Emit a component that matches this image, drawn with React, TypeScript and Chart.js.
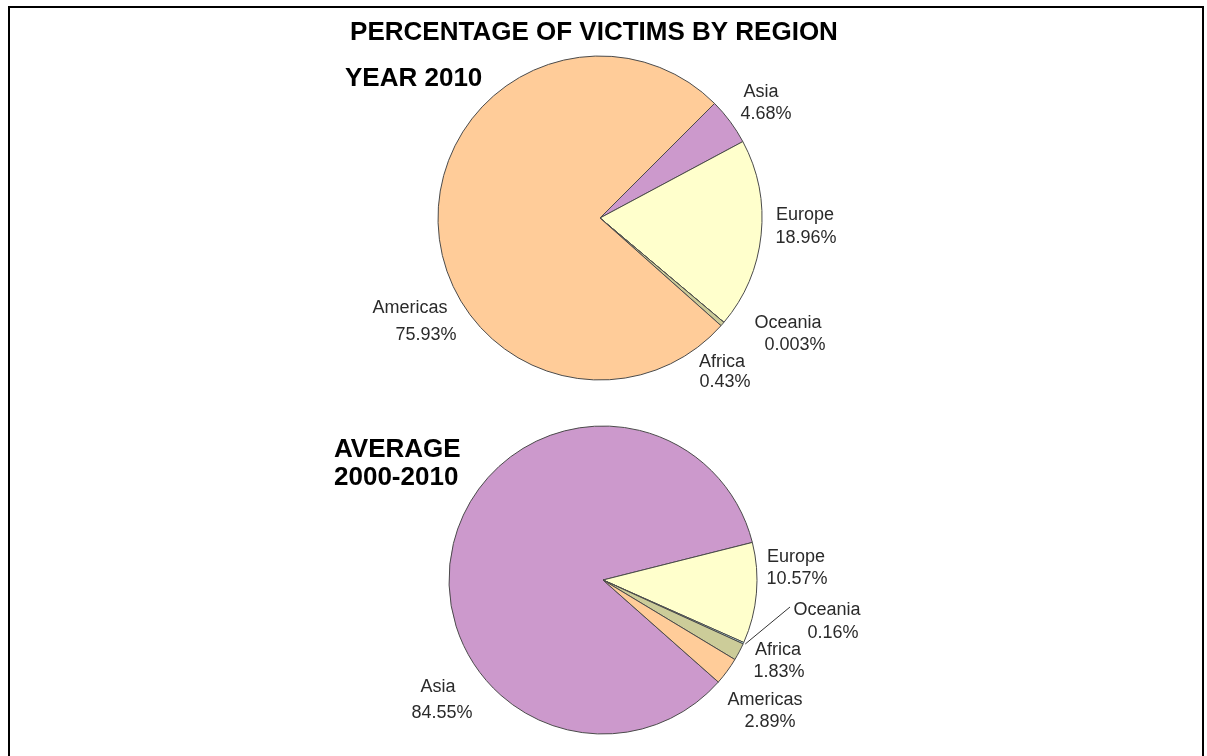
import React, { useEffect, useRef } from "react";
import { Chart, registerables } from "chart.js";

Chart.register(...registerables);

// ---- data ----
const TITLE = "PERCENTAGE OF VICTIMS BY REGION";
const REGIONS = ["Asia", "Europe", "Oceania", "Africa", "Americas"];
const VALUES_2010 = [4.68, 18.96, 0.003, 0.43, 75.93];
const VALUES_AVG = [84.55, 10.57, 0.16, 1.83, 2.89];
const SUBTITLE_2010 = ["YEAR 2010"];
const SUBTITLE_AVG = ["AVERAGE", "2000-2010"];

// ---- styles / layout ----
const COLORS = ["#CC99CC", "#FFFFCC", "#CCFFFF", "#CCCC99", "#FFCC99"];
const LABEL_FONT = '18px "Liberation Sans", Arial, sans-serif';
const BOLD_FONT = 'bold 26px "Liberation Sans", Arial, sans-serif';
// label line centres relative to pie centre: [nameDx, nameDy, valueDx, valueDy]
const LAYOUT_2010 = [
  [161, -126, 166, -104],
  [205, -3, 206, 20],
  [188, 105, 195, 127],
  [122, 144, 125, 164],
  [-190, 90, -174, 117],
];
const LAYOUT_AVG = [
  [-165, 107, -161, 133],
  [193, -23, 194, -1],
  [224, 30, 230, 53],
  [175, 70, 176, 92],
  [162, 120, 167, 142],
];

type PieCfg = {
  values: number[];
  layout: number[][];
  rotation: number;
  width: number;
  height: number;
  padding: { left: number; right: number; top: number; bottom: number };
  headings: { text: string; x: number; y: number; align: CanvasTextAlign }[];
  leader?: { index: number; to: [number, number] };
};

function PieCanvas({ cfg, top }: { cfg: PieCfg; top: number }) {
  const ref = useRef<HTMLCanvasElement | null>(null);
  useEffect(() => {
    if (!ref.current) return;
    const labelPlugin = {
      id: "labelsAndHeadings",
      afterDraw(chart: any) {
        const ctx = chart.ctx as CanvasRenderingContext2D;
        const meta = chart.getDatasetMeta(0);
        const arc0 = meta.data[0] as any;
        const cx = arc0.x;
        const cy = arc0.y;
        ctx.save();
        // headings
        ctx.fillStyle = "#000";
        ctx.font = BOLD_FONT;
        ctx.textBaseline = "alphabetic";
        cfg.headings.forEach((h) => {
          ctx.textAlign = h.align;
          ctx.fillText(h.text, h.x, h.y);
        });
        // labels
        ctx.fillStyle = "#2a2a2a";
        ctx.font = LABEL_FONT;
        ctx.textAlign = "center";
        ctx.textBaseline = "middle";
        REGIONS.forEach((name, i) => {
          const l = cfg.layout[i];
          ctx.fillText(name, cx + l[0], cy + l[1]);
          ctx.fillText(String(cfg.values[i]) + "%", cx + l[2], cy + l[3]);
        });
        // leader line
        if (cfg.leader) {
          const a = meta.data[cfg.leader.index] as any;
          const mid = (a.startAngle + a.endAngle) / 2;
          const r = a.outerRadius;
          ctx.strokeStyle = "#333";
          ctx.lineWidth = 1;
          ctx.beginPath();
          ctx.moveTo(cx + Math.cos(mid) * (r + 2), cy + Math.sin(mid) * (r + 2));
          ctx.lineTo(cx + cfg.leader.to[0], cy + cfg.leader.to[1]);
          ctx.stroke();
        }
        ctx.restore();
      },
    };
    const chart = new Chart(ref.current, {
      type: "pie",
      data: {
        labels: REGIONS,
        datasets: [
          {
            data: cfg.values,
            backgroundColor: COLORS,
            borderColor: "#4a4a4a",
            borderWidth: 1,
          },
        ],
      },
      options: {
        responsive: false,
        animation: false,
        rotation: cfg.rotation,
        layout: { padding: cfg.padding },
        plugins: {
          legend: { display: false },
          tooltip: { enabled: false },
          title: { display: false },
        },
      },
      plugins: [labelPlugin],
    });
    return () => chart.destroy();
  }, []);
  return (
    <canvas
      ref={ref}
      width={cfg.width}
      height={cfg.height}
      style={{ position: "absolute", left: 0, top, width: cfg.width, height: cfg.height }}
    />
  );
}

const CFG_2010: PieCfg = {
  values: VALUES_2010,
  layout: LAYOUT_2010,
  rotation: 45,
  width: 1207,
  height: 400,
  padding: { left: 437.5, right: 444.5, top: 55.5, bottom: 19.5 },
  headings: [
    { text: TITLE, x: 594, y: 40, align: "center" },
    { text: SUBTITLE_2010[0], x: 345, y: 86, align: "left" },
  ],
};

const CFG_AVG: PieCfg = {
  values: VALUES_AVG,
  layout: LAYOUT_AVG,
  rotation: 131.5,
  width: 1207,
  height: 356,
  padding: { left: 448.5, right: 449.5, top: 25.5, bottom: 21.5 },
  headings: [
    { text: SUBTITLE_AVG[0], x: 334, y: 57, align: "left" },
    { text: SUBTITLE_AVG[1], x: 334, y: 85, align: "left" },
  ],
  leader: { index: 2, to: [187, 27] },
};

export default function App() {
  return (
    <div
      style={{
        position: "absolute",
        left: 0,
        top: 0,
        width: 1207,
        height: 756,
        overflow: "hidden",
        background: "#fff",
      }}
    >
      <div
        style={{
          position: "absolute",
          left: 8,
          top: 6,
          width: 1192,
          height: 800,
          border: "2px solid #000",
        }}
      />
      <PieCanvas cfg={CFG_2010} top={0} />
      <PieCanvas cfg={CFG_AVG} top={400} />
    </div>
  );
}
